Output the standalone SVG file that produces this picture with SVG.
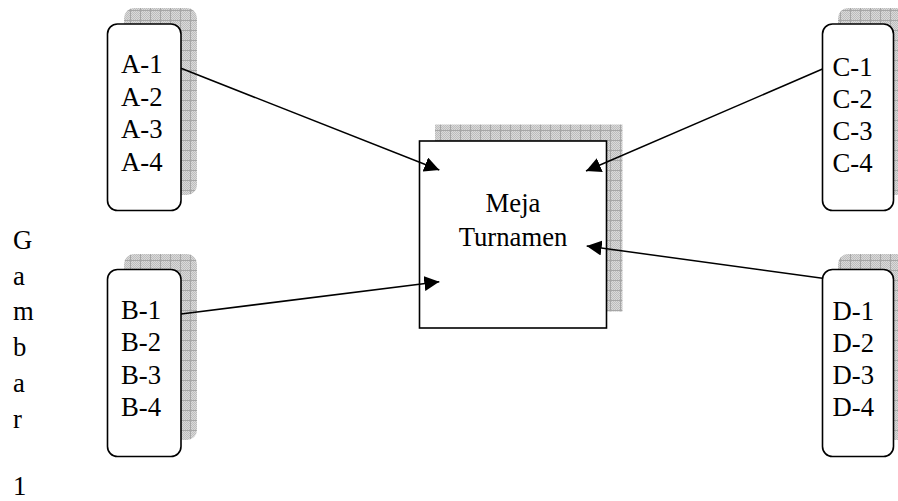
<svg xmlns="http://www.w3.org/2000/svg" width="898" height="501" viewBox="0 0 898 501">
<style>
  .box { fill: #ffffff; stroke: #000000; stroke-width: 1.6; }
  .shadow { fill: url(#grid); }
  .t { font-family: "Liberation Serif", "Times New Roman", serif; font-size: 26.7px; fill: #000000; }
  .c { text-anchor: middle; }
  .edge { stroke: #000000; stroke-width: 1.5; fill: none; marker-end: url(#arrow); }
</style>
<defs>
  <pattern id="dots" width="2" height="2" patternUnits="userSpaceOnUse">
    <rect width="2" height="2" fill="#dadada"/>
    <rect width="1" height="1" fill="#bdbdbd"/>
    <rect x="1" y="1" width="1" height="1" fill="#bdbdbd"/>
  </pattern>
  <pattern id="grid" width="10" height="10" patternUnits="userSpaceOnUse">
    <rect width="10" height="10" fill="url(#dots)"/>
    <path d="M0,0.5 H10 M0.5,0 V10" stroke="#a6a6a6" stroke-width="1"/>
  </pattern>
  <marker id="arrow" markerUnits="userSpaceOnUse" markerWidth="16" markerHeight="15" refX="15" refY="7.5" orient="auto">
    <path d="M0,0 L15,7.5 L0,15 z" fill="#000000"/>
  </marker>
</defs>

<g id="caption">
  <text class="t" x="13" y="249">G</text>
  <text class="t" x="13" y="284.7">a</text>
  <text class="t" x="13" y="320.4">m</text>
  <text class="t" x="13" y="356">b</text>
  <text class="t" x="13" y="391.8">a</text>
  <text class="t" x="13" y="427.5">r</text>
  <text class="t" x="13" y="495">1</text>
</g>

<g id="meja">
  <rect class="shadow" x="435" y="124.5" width="187.5" height="187"/>
  <rect class="box" x="419.5" y="141" width="187" height="187"/>
  <text class="t c" x="513" y="211.7">Meja</text>
  <text class="t c" x="513" y="246">Turnamen</text>
</g>

<g id="groupA">
  <rect class="shadow" x="124" y="8" width="73" height="187" rx="10"/>
  <rect class="box" x="107.5" y="24" width="73.5" height="186.5" rx="10"/>
  <text class="t" x="121" y="73">A-1</text>
  <text class="t" x="121" y="105.5">A-2</text>
  <text class="t" x="121" y="138">A-3</text>
  <text class="t" x="121" y="170.5">A-4</text>
</g>

<g id="groupB">
  <rect class="shadow" x="124" y="254" width="73" height="186" rx="10"/>
  <rect class="box" x="107.5" y="269.5" width="73.5" height="187" rx="10"/>
  <text class="t" x="121" y="318.5">B-1</text>
  <text class="t" x="121" y="351">B-2</text>
  <text class="t" x="121" y="383.5">B-3</text>
  <text class="t" x="121" y="416">B-4</text>
</g>

<g id="groupC">
  <rect class="shadow" x="838" y="8" width="73" height="187" rx="10"/>
  <rect class="box" x="822.5" y="24" width="71" height="186.5" rx="10"/>
  <text class="t" x="832.5" y="76">C-1</text>
  <text class="t" x="832.5" y="108">C-2</text>
  <text class="t" x="832.5" y="140">C-3</text>
  <text class="t" x="832.5" y="172">C-4</text>
</g>

<g id="groupD">
  <rect class="shadow" x="838" y="254" width="73" height="186" rx="10"/>
  <rect class="box" x="822.5" y="269.5" width="71" height="187" rx="10"/>
  <text class="t" x="832.5" y="320">D-1</text>
  <text class="t" x="832.5" y="352">D-2</text>
  <text class="t" x="832.5" y="384">D-3</text>
  <text class="t" x="832.5" y="416">D-4</text>
</g>

<g id="connectors">
  <line class="edge" x1="181" y1="68.3" x2="439.3" y2="170"/>
  <line class="edge" x1="181" y1="314" x2="439.3" y2="281.7"/>
  <line class="edge" x1="822.5" y1="69" x2="586" y2="171"/>
  <line class="edge" x1="822.5" y1="278.3" x2="586.7" y2="246"/>
</g>
</svg>
